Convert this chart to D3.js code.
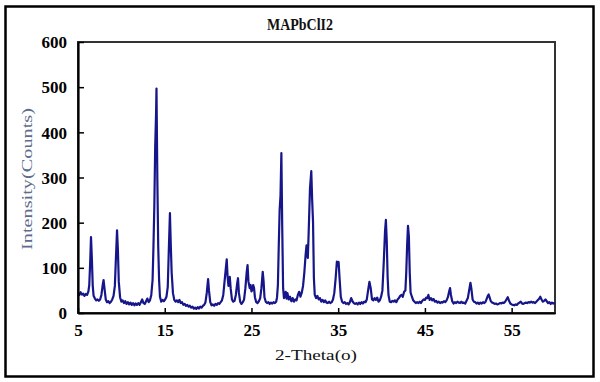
<!DOCTYPE html>
<html>
<head>
<meta charset="utf-8">
<script src="https://cdn.jsdelivr.net/npm/d3@7"></script>
<style>
  html, body { margin: 0; padding: 0; background: #fff; }
  svg { display: block; }
</style>
</head>
<body>
<svg id="chart" width="600" height="382"></svg>
<script>
const chartTitle = "MAPbClI2";
const xLabel = "2-Theta(o)";
const yLabel = "Intensity(Counts)";
const xTicks = [5, 15, 25, 35, 45, 55];
const yTicks = [0, 100, 200, 300, 400, 500, 600];

const twoTheta = [
  5.0,5.15,5.3,5.45,5.6,5.75,5.9,6.05,6.2,6.3,6.4,6.5,6.6,6.7,6.8,6.95,7.1,7.25,7.4,7.55,7.7,7.85,7.95,8.05,8.2,8.35,8.5,8.65,8.8,8.95,
  9.1,9.25,9.35,9.5,9.6,9.7,9.85,10.0,10.15,10.3,10.45,10.6,10.75,10.9,11.05,11.2,11.35,11.5,11.65,11.8,11.95,12.1,12.25,12.4,12.55,12.7,12.85,13.0,13.15,13.3,
  13.45,13.6,13.7,13.8,13.9,14.0,14.05,14.15,14.25,14.35,14.45,14.6,14.75,14.9,15.05,15.2,15.35,15.45,15.6,15.7,15.8,15.95,16.1,16.25,16.4,16.55,16.7,16.85,17.0,17.15,
  17.3,17.45,17.6,17.75,17.9,18.05,18.2,18.35,18.5,18.65,18.8,18.95,19.1,19.25,19.4,19.55,19.7,19.85,20.0,20.1,20.25,20.4,20.55,20.7,20.85,21.0,21.15,21.3,21.45,21.6,
  21.75,21.9,22.05,22.15,22.25,22.35,22.5,22.6,22.75,22.9,23.05,23.2,23.35,23.45,23.55,23.7,23.85,24.0,24.15,24.3,24.45,24.55,24.65,24.8,24.9,25.0,25.1,25.2,25.3,25.4,
  25.55,25.7,25.85,26.0,26.15,26.3,26.4,26.5,26.65,26.8,26.95,27.1,27.25,27.4,27.55,27.7,27.85,27.95,28.05,28.15,28.25,28.35,28.45,28.55,28.65,28.75,28.85,28.95,29.05,29.15,
  29.3,29.45,29.6,29.75,29.9,30.05,30.2,30.35,30.5,30.65,30.8,30.95,31.1,31.25,31.35,31.5,31.6,31.75,31.9,32.0,32.1,32.2,32.3,32.45,32.6,32.75,32.9,33.05,33.2,33.35,
  33.5,33.65,33.8,33.95,34.1,34.25,34.4,34.55,34.7,34.85,34.95,35.05,35.15,35.3,35.45,35.6,35.75,35.9,36.05,36.2,36.35,36.5,36.65,36.8,36.95,37.1,37.25,37.4,37.55,37.7,
  37.85,38.0,38.15,38.3,38.45,38.6,38.75,38.9,39.05,39.2,39.35,39.5,39.65,39.8,39.95,40.1,40.25,40.4,40.5,40.6,40.7,40.8,40.95,41.1,41.25,41.4,41.55,41.7,41.85,42.0,
  42.15,42.3,42.45,42.6,42.75,42.85,42.95,43.05,43.15,43.25,43.35,43.5,43.65,43.8,43.95,44.1,44.25,44.4,44.55,44.7,44.85,45.0,45.15,45.3,45.4,45.55,45.7,45.85,46.0,46.15,
  46.3,46.45,46.6,46.75,46.9,47.05,47.2,47.35,47.5,47.65,47.8,47.9,48.0,48.15,48.3,48.45,48.6,48.75,48.9,49.05,49.2,49.35,49.5,49.65,49.8,49.95,50.1,50.25,50.35,50.5,
  50.65,50.8,50.95,51.1,51.25,51.4,51.55,51.7,51.85,52.0,52.1,52.25,52.35,52.45,52.6,52.75,52.9,53.05,53.2,53.35,53.5,53.65,53.8,53.95,54.1,54.25,54.4,54.55,54.7,54.85,
  55.0,55.15,55.3,55.45,55.6,55.75,55.9,56.05,56.2,56.35,56.5,56.65,56.8,56.95,57.1,57.25,57.4,57.55,57.7,57.85,58.0,58.15,58.3,58.45,58.6,58.75,58.9,59.05,59.2,59.35,
  59.5,59.65,59.8,60.0
];
const counts = [
  44,40,46,41,43,38,42,40,48,62,110,168,120,60,38,32,28,30,27,30,40,62,73,55,30,24,26,22,25,30,
  38,60,110,183,140,70,35,25,28,22,26,20,24,19,23,18,22,17,21,18,22,18,24,30,22,20,26,32,24,28,
  40,73,147,235,368,440,497,294,147,73,36,25,29,26,30,36,58,125,221,150,89,44,29,25,28,24,29,22,24,18,
  20,16,18,14,16,12,14,10,12,9,13,10,14,12,16,18,24,45,75,50,24,17,19,16,20,18,22,20,24,28,
  40,70,100,119,80,60,80,55,30,25,27,40,65,77,45,25,20,24,30,55,90,106,70,55,62,48,51,62,55,35,
  24,22,26,32,55,91,70,35,25,22,24,20,23,21,24,22,25,35,62,150,228,260,354,188,55,33,38,47,32,44,
  30,36,26,33,25,30,28,40,47,36,45,60,90,130,150,122,180,276,314,250,202,77,40,33,38,30,33,25,29,24,
  28,23,22,25,22,24,30,44,75,114,105,113,80,36,25,22,24,20,22,19,24,33,26,22,20,22,19,23,20,24,
  21,25,24,30,50,69,55,30,28,33,29,34,25,28,36,50,110,180,206,160,80,40,25,24,27,25,28,24,30,33,
  38,40,36,47,50,90,150,193,170,90,45,36,28,25,22,24,22,25,22,27,30,29,34,33,40,29,33,28,31,25,
  27,23,25,22,24,23,26,24,28,35,48,55,40,26,21,24,22,25,23,22,25,22,23,21,27,33,50,67,55,30,
  25,24,21,23,20,23,21,24,22,25,30,38,41,35,26,23,22,20,21,19,20,22,21,23,22,25,30,35,27,21,
  19,18,17,19,18,21,23,25,21,20,22,23,22,24,23,25,23,24,22,25,28,31,36,30,25,27,30,26,22,24,
  20,23,21,23
];

const svg = d3.select("#chart");
const m = { left: 78, right: 555, top: 42, bottom: 313 };

// outer frame
svg.append("rect")
  .attr("x", 5.5).attr("y", 6.5)
  .attr("width", 588).attr("height", 370)
  .attr("fill", "#fff").attr("stroke", "#000").attr("stroke-width", 2.5);

const x = d3.scaleLinear().domain([5, 60]).range([m.left, m.right]);
const y = d3.scaleLinear().domain([0, 600]).range([m.bottom, m.top]);

// plot frame (top/right)
svg.append("rect")
  .attr("x", m.left).attr("y", m.top)
  .attr("width", m.right - m.left).attr("height", m.bottom - m.top)
  .attr("fill", "none").attr("stroke", "#333").attr("stroke-width", 2);

const data = twoTheta.map((t, i) => [t, counts[i]]);
const line = d3.line().x(d => x(d[0])).y(d => y(d[1]));
svg.append("path")
  .datum(data)
  .attr("d", line)
  .attr("fill", "none")
  .attr("stroke", "#16168a")
  .attr("stroke-width", 2.2)
  .attr("stroke-linejoin", "round");

// axes
const xAxis = d3.axisBottom(x).tickValues(xTicks).tickSizeInner(-5).tickSizeOuter(0).tickPadding(11);
const gx = svg.append("g").attr("transform", `translate(0,${m.bottom})`).call(xAxis);
const yAxis = d3.axisLeft(y).tickValues(yTicks).tickSizeInner(-6).tickSizeOuter(0).tickPadding(11);
const gy = svg.append("g").attr("transform", `translate(${m.left},0)`).call(yAxis);

[gx, gy].forEach(g => {
  g.select(".domain").attr("stroke", "#000").attr("stroke-width", 2.2);
  g.selectAll(".tick line").attr("stroke", "#000").attr("stroke-width", 1.5);
  g.selectAll(".tick text")
    .attr("fill", "#000")
    .style("font-family", "'Liberation Serif', 'Times New Roman', serif")
    .style("font-size", "17px")
    .style("font-weight", "600");
});
gy.selectAll(".tick text").attr("x", -11).attr("dy", "0.34em");

// title
svg.append("text")
  .attr("x", 300).attr("y", 30)
  .attr("text-anchor", "middle")
  .attr("textLength", 66).attr("lengthAdjust", "spacingAndGlyphs")
  .style("font-family", "'Liberation Serif', serif")
  .style("font-size", "16px")
  .style("font-weight", "bold")
  .attr("fill", "#111")
  .text(chartTitle);

// x label
svg.append("text")
  .attr("x", 316).attr("y", 360)
  .attr("text-anchor", "middle")
  .attr("textLength", 82).attr("lengthAdjust", "spacingAndGlyphs")
  .style("font-family", "'Liberation Serif', serif")
  .style("font-size", "15px")
  .attr("fill", "#111")
  .text(xLabel);

// y label
svg.append("text")
  .attr("transform", "translate(32,179) rotate(-90)")
  .attr("text-anchor", "middle")
  .attr("textLength", 142).attr("lengthAdjust", "spacingAndGlyphs")
  .style("font-family", "'Liberation Serif', serif")
  .style("font-size", "15px")
  .attr("fill", "#5d6c8c")
  .text(yLabel);
</script>
</body>
</html>
